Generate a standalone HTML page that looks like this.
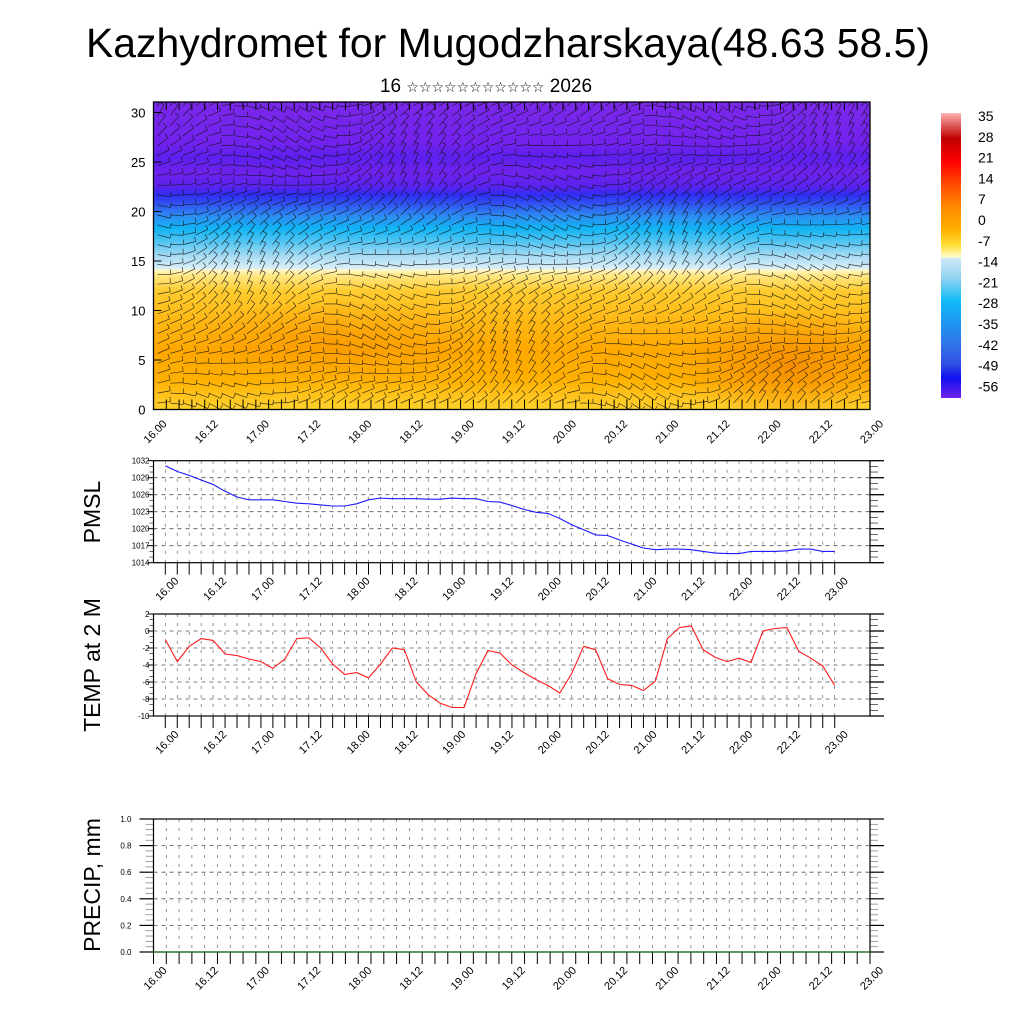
<!DOCTYPE html>
<html><head><meta charset="utf-8"><style>
html,body{margin:0;padding:0;background:#fff;}
svg{display:block;font-family:"Liberation Sans",sans-serif;}
</style></head><body>
<svg id="chart" width="1024" height="1024" viewBox="0 0 1024 1024" xmlns="http://www.w3.org/2000/svg">
<text x="508" y="57" font-size="41" text-anchor="middle" textLength="844" lengthAdjust="spacingAndGlyphs">Kazhydromet for Mugodzharskaya(48.63 58.5)</text>
<text x="486" y="92" font-size="19" text-anchor="middle" font-family="Liberation Sans, DejaVu Sans, sans-serif">16 <tspan font-size="14">☆☆☆☆☆☆☆☆☆☆☆</tspan> 2026</text>
<g id="top"></g>
<g id="cbar"></g>
<g id="pmsl"></g>
<g id="temp"></g>
<g id="precip"></g>
</svg>
<script>
const xTickLabels = ["16.00","16.12","17.00","17.12","18.00","18.12","19.00","19.12","20.00","20.12","21.00","21.12","22.00","22.12","23.00"];
const pmslValues = [1031.1,1030.1,1029.4,1028.6,1027.8,1026.6,1025.6,1025.1,1025.1,1025.1,1024.8,1024.5,1024.4,1024.2,1024.0,1024.0,1024.4,1025.1,1025.4,1025.3,1025.3,1025.3,1025.2,1025.2,1025.4,1025.3,1025.3,1024.8,1024.7,1024.1,1023.4,1022.9,1022.7,1021.8,1020.7,1019.8,1018.9,1018.8,1018.0,1017.3,1016.6,1016.3,1016.4,1016.4,1016.3,1016.0,1015.7,1015.6,1015.6,1016.0,1016.0,1016.0,1016.1,1016.4,1016.4,1016.0,1016.0];
const tempValues = [-1.0,-3.6,-1.8,-0.9,-1.1,-2.7,-2.9,-3.3,-3.6,-4.4,-3.3,-0.9,-0.8,-2.0,-3.9,-5.1,-4.9,-5.5,-3.9,-2.0,-2.2,-6.0,-7.5,-8.5,-9.0,-9.0,-5.0,-2.3,-2.6,-4.0,-4.9,-5.7,-6.4,-7.3,-5.0,-1.8,-2.2,-5.6,-6.3,-6.4,-7.0,-5.9,-0.9,0.4,0.6,-2.2,-3.1,-3.6,-3.2,-3.7,0.0,0.3,0.4,-2.4,-3.2,-4.1,-6.4];
const pmslTicks = [1014,1017,1020,1023,1026,1029,1032];
const tempTicks = [-10,-8,-6,-4,-2,0,2];
const precipTicks = ["0.0","0.2","0.4","0.6","0.8","1.0"];
const cbarLabels = [35,28,21,14,7,0,-7,-14,-21,-28,-35,-42,-49,-56];
const topYTicks = [0,5,10,15,20,25,30];

const NS="http://www.w3.org/2000/svg";
function el(parent,tag,attrs,text){const e=document.createElementNS(NS,tag);for(const k in attrs)e.setAttribute(k,attrs[k]);if(text!==undefined)e.textContent=text;parent.appendChild(e);return e;}

function xAxisLabels(g,x0,x1,yb,n){
  for(let i=0;i<=n*8;i++){
    const x=x0+(x1-x0)*i/(n*8);
    const t=el(g,'line',{x1:x,x2:x,y1:yb,y2:yb+12,stroke:'#000','stroke-width':1});
    
    
    if(i%4===0){
      const lbl=el(g,'text',{x:x+14,y:yb+19,'font-size':11,'text-anchor':'end',transform:`rotate(-45 ${x+14} ${yb+19})`},xTickLabels[i/4]);
      
      
    }
  }
}

function linePanel(g,values,ticks,lo,hi,top,bot,color,title,titleY){
  const L=153.5,R=870,X0=165.3,X1=834.7;
  const xs=i=>X0+(X1-X0)*i/56;
  const ys=v=>bot-(v-lo)/(hi-lo)*(bot-top);
  for(const v of ticks){
    const y=ys(v);
    if(v!==lo&&v!==hi){const gl=el(g,'line',{x1:L,x2:R,y1:y,y2:y,stroke:'#555','stroke-width':0.8,'stroke-dasharray':'4,4'});}
    el(g,'line',{x1:L-6,x2:L,y1:y,y2:y,stroke:'#000'});
    el(g,'line',{x1:R,x2:R+14,y1:y,y2:y,stroke:'#000','stroke-width':1.3});
    const tl=el(g,'text',{x:L-4,y:y+3,'font-size':8,'text-anchor':'end'},String(v));
    
    
  }
  const step=(ys(ticks[0])-ys(ticks[1]))/3;
  for(let y=bot;y>top;y-=step){el(g,'line',{x1:L-4,x2:L,y1:y,y2:y,stroke:'#000','stroke-width':0.6});el(g,'line',{x1:R,x2:R+8,y1:y,y2:y,stroke:'#000','stroke-width':0.6});}
  for(let i=0;i<57;i++){const x=xs(i);el(g,'line',{x1:x,x2:x,y1:top,y2:bot,stroke:'#666','stroke-width':0.7,'stroke-dasharray':'3,6'});}
  const fr=el(g,'rect',{x:L,y:top,width:R-L,height:bot-top,fill:'none',stroke:'#000','stroke-width':1.2});
  
  
  const pts=values.map((v,i)=>xs(i).toFixed(1)+','+ys(v).toFixed(1)).join(' ');
  const pl=el(g,'polyline',{points:pts,fill:'none',stroke:color,'stroke-width':1.1});
  
  
  xAxisLabels(g,X0,X1,bot,7);
  const tt=el(g,'text',{x:0,y:0,'font-size':23,'text-anchor':'middle',transform:`translate(100 ${titleY}) rotate(-90)`},title);
  
  
}

linePanel(document.getElementById('pmsl'),pmslValues,pmslTicks,1014,1032,460.7,562.7,'#1a1aff','PMSL',512);
linePanel(document.getElementById('temp'),tempValues,tempTicks,-10,2,614,716,'#ff1a1a','TEMP at 2 M',665);

(function(){
  const g=document.getElementById('precip');
  const L=153.5,R=870,top=819,bot=952;
  const ys=v=>bot-v*(bot-top);
  precipTicks.forEach((s,i)=>{
    const v=i*0.2,y=ys(v);
    if(i>0&&i<5){const gl=el(g,'line',{x1:L,x2:R,y1:y,y2:y,stroke:'#555','stroke-width':0.8,'stroke-dasharray':'4,4'});}
    el(g,'line',{x1:L-14,x2:L,y1:y,y2:y,stroke:'#000','stroke-width':1.2});
    el(g,'line',{x1:R,x2:R+14,y1:y,y2:y,stroke:'#000','stroke-width':1.2});
    const tl=el(g,'text',{x:L-22,y:y+3,'font-size':8,'text-anchor':'end'},s);
    
    
  });
  for(let k=1;k<25;k++){if(k%5){const y=ys(k*0.04);el(g,'line',{x1:L-8,x2:L,y1:y,y2:y,stroke:'#888','stroke-width':0.8});el(g,'line',{x1:R,x2:R+8,y1:y,y2:y,stroke:'#888','stroke-width':0.8});}}
  for(let i=0;i<=56;i++){const x=L+(R-L)*i/56;el(g,'line',{x1:x,x2:x,y1:top,y2:bot,stroke:'#666','stroke-width':0.7,'stroke-dasharray':'3,6'});}
  const fr=el(g,'rect',{x:L,y:top,width:R-L,height:bot-top,fill:'none',stroke:'#000','stroke-width':1.2});
  
  
  xAxisLabels(g,L,R,bot,7);
  const zl=el(g,'line',{x1:L,x2:R,y1:bot,y2:bot,stroke:'#1a7a1a','stroke-width':1.2});
  
  
  const tt=el(g,'text',{x:0,y:0,'font-size':23,'text-anchor':'middle',transform:'translate(100 885) rotate(-90)'},'PRECIP, mm');
  
  
})();

(function(){
  const g=document.getElementById('top');
  const L=153.5,R=870,top=102,bot=409.5;
  const ys=v=>bot-v*9.9;
  const defs=el(g,'defs',{});
  const gr=el(defs,'linearGradient',{id:'tg',x1:0,y1:1,x2:0,y2:0});
  const stops=[[0,'#ffd22e'],[1.5,'#ffc21a'],[3,'#ffb000'],[6,'#ffa800'],[9,'#ffb814'],[12,'#ffcc30'],[13.6,'#ffe888'],[14.1,'#fff8c8'],[14.3,'#d8eef8'],[15.5,'#a8dcf4'],[17,'#50c4f2'],[18.3,'#10b4f4'],[19.5,'#2c8ef2'],[20.7,'#3056f0'],[21.7,'#2e2ef2'],[22.5,'#5a22ee'],[24,'#6e22ec'],[25.5,'#5c20ee'],[27,'#7222ec'],[31.1,'#7a28ea']];
  for(const [v,c] of stops) el(gr,'stop',{offset:(v/31.1).toFixed(4),'stop-color':c});
  const rg=el(defs,'radialGradient',{id:'og',cx:0.5,cy:0.5,r:0.5});
  el(rg,'stop',{offset:0,'stop-color':'#f58c00','stop-opacity':0.9});
  el(rg,'stop',{offset:1,'stop-color':'#f58c00','stop-opacity':0});
  const cp=el(defs,'clipPath',{id:'tc'});el(cp,'rect',{x:L,y:top,width:R-L,height:bot-top});
  const cg=el(g,'g',{'clip-path':'url(#tc)'});
  const bg=el(cg,'rect',{x:L,y:top,width:R-L,height:bot-top,fill:'url(#tg)'});
  
  
  el(cg,'ellipse',{cx:790,cy:365,rx:110,ry:55,fill:'url(#og)'});
  el(cg,'ellipse',{cx:330,cy:340,rx:160,ry:40,fill:'url(#og)',opacity:0.5});
  const wg=el(cg,'g',{stroke:'#111','stroke-width':0.7,opacity:0.8});
  
  
  for(let x=L+4;x<R;x+=12.8){
    for(let y=top+4;y<bot;y+=9.9){
      const a=0.5*Math.sin(x/60+y/40)+0.4*Math.cos(x/35-y/70)-0.3;
      const len=13;
      const dx=Math.cos(a)*len,dy=Math.sin(a)*len;
      el(wg,'line',{x1:x,y1:y,x2:x+dx,y2:y+dy});
      el(wg,'line',{x1:x+dx,y1:y+dy,x2:x+dx+Math.sin(a)*5,y2:y+dy-Math.cos(a)*5});
    }
  }
  for(const v of topYTicks){
    const y=ys(v);
    el(g,'line',{x1:L,x2:L+8,y1:y,y2:y,stroke:'#000'});
    const tl=el(g,'text',{x:L-8,y:y+5,'font-size':13,'text-anchor':'end'},String(v));
    
    
  }
  for(let i=0;i<=56;i++){const x=L+(R-L)*i/56;el(g,'line',{x1:x,x2:x,y1:bot,y2:bot-10,stroke:'#000'});el(g,'line',{x1:x,x2:x,y1:top,y2:top+8,stroke:'#000'});}
  const fr=el(g,'rect',{x:L,y:top,width:R-L,height:bot-top,fill:'none',stroke:'#000','stroke-width':1.3});
  
  
  for(let i=0;i<15;i++){
    const x=L+(R-L)*i/14;
    const lbl=el(g,'text',{x:x+14,y:bot+15,'font-size':11,'text-anchor':'end',transform:`rotate(-45 ${x+14} ${bot+15})`},xTickLabels[i]);
    
    
  }
})();

(function(){
  const g=document.getElementById('cbar');
  const X=941,W=20,T=113,B=398;
  const defs=el(g,'defs',{});
  const gr=el(defs,'linearGradient',{id:'cg',x1:0,y1:0,x2:0,y2:1});
  const cs=[[0,'#ffb4b4'],[0.04,'#e06060'],[0.09,'#c00000'],[0.17,'#ff0000'],[0.25,'#ff4a00'],[0.33,'#ff8a00'],[0.41,'#ffb000'],[0.46,'#ffdc30'],[0.505,'#fffcc8'],[0.51,'#cfe9f6'],[0.58,'#90d2f0'],[0.66,'#10bcf8'],[0.74,'#2094f0'],[0.82,'#3070e8'],[0.88,'#3050e4'],[0.93,'#1010f0'],[1,'#7020ee']];
  for(const [o,c] of cs) el(gr,'stop',{offset:o,'stop-color':c});
  el(g,'rect',{x:X,y:T,width:W,height:B-T,fill:'url(#cg)'});
  cbarLabels.forEach((v,i)=>{
    const t=el(g,'text',{x:978,y:121+i*20.8,'font-size':14},String(v));
    
    
  });
})();
</script>
</body></html>
